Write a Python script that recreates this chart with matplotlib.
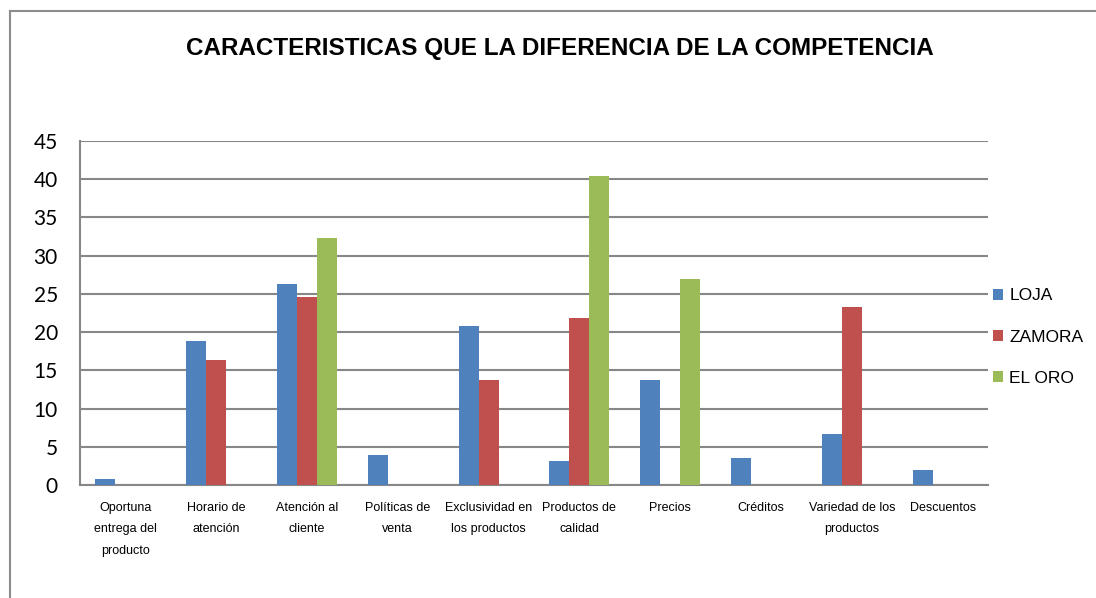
import matplotlib.pyplot as plt
from matplotlib.lines import Line2D
import numpy as np

categories = [
    "Oportuna\nentrega del\nproducto",
    "Horario de\natención",
    "Atención al\ncliente",
    "Políticas de\nventa",
    "Exclusividad en\nlos productos",
    "Productos de\ncalidad",
    "Precios",
    "Créditos",
    "Variedad de los\nproductos",
    "Descuentos",
]
loja = [0.74, 18.84, 26.34, 3.92, 20.8, 3.1, 13.74, 3.49, 6.67, 1.92]
zamora = [0, 16.4, 24.6, 0, 13.7, 21.85, 0, 0, 23.24, 0]
el_oro = [0, 0, 32.36, 0, 0, 40.47, 26.95, 0, 0, 0]
series_names = ["LOJA", "ZAMORA", "EL ORO"]
colors = ["#4F81BD", "#C0504D", "#9BBB59"]

sans = ["Liberation Sans", "DejaVu Sans"]

fig = plt.figure(figsize=(10.96, 5.98), dpi=100)
ax = fig.add_axes([80 / 1096, 113 / 598, 908 / 1096, 344 / 598])

x = np.arange(len(categories))
w = 0.22
for i, (vals, name, c) in enumerate(zip([loja, zamora, el_oro], series_names, colors)):
    ax.bar(x + (i - 1) * w, vals, width=w, color=c, label=name, linewidth=0, zorder=3)

ax.set_xlim(-0.5, len(categories) - 0.5)
ax.set_ylim(0, 45)
ax.set_yticks(range(0, 46, 5))
ax.yaxis.grid(True, color="#878787", linewidth=1.5, zorder=0)
ax.set_axisbelow(True)
for s in ["top", "right"]:
    ax.spines[s].set_visible(False)
for s in ["left", "bottom"]:
    ax.spines[s].set_color("#878787")
    ax.spines[s].set_linewidth(1.5)

ax.tick_params(axis="both", length=0)
ax.tick_params(axis="y", pad=16)
ax.tick_params(axis="x", pad=12)
for lab in ax.get_yticklabels():
    lab.set_fontfamily(["Lato", "DejaVu Sans"])
    lab.set_fontsize(15)

ax.set_xticks(x)
ax.set_xticklabels(categories, fontfamily=sans, fontsize=9, linespacing=2.05, va="top")

ax.legend(loc="center left", bbox_to_anchor=(993 / 1096, 1 - 337 / 598),
          bbox_transform=fig.transFigure, frameon=False, prop={"family": sans, "size": 12.5},
          handlelength=0.6, handleheight=0.6, handletextpad=0.35, labelspacing=1.5,
          borderpad=0, borderaxespad=0)

fig.text(560 / 1096, 1 - 48 / 598, "CARACTERISTICAS QUE LA DIFERENCIA DE LA COMPETENCIA",
         ha="center", va="center", fontsize=17.5, fontweight="bold", fontfamily=sans)

# chart frame (left and top edges visible)
fig.add_artist(Line2D([10 / 1096, 10 / 1096], [0, 1 - 11 / 598], transform=fig.transFigure,
                      color="#8c8c8c", linewidth=1.5))
fig.add_artist(Line2D([10 / 1096, 1], [1 - 11 / 598, 1 - 11 / 598], transform=fig.transFigure,
                      color="#8c8c8c", linewidth=1.5))

fig.savefig("out.png", dpi=100)
